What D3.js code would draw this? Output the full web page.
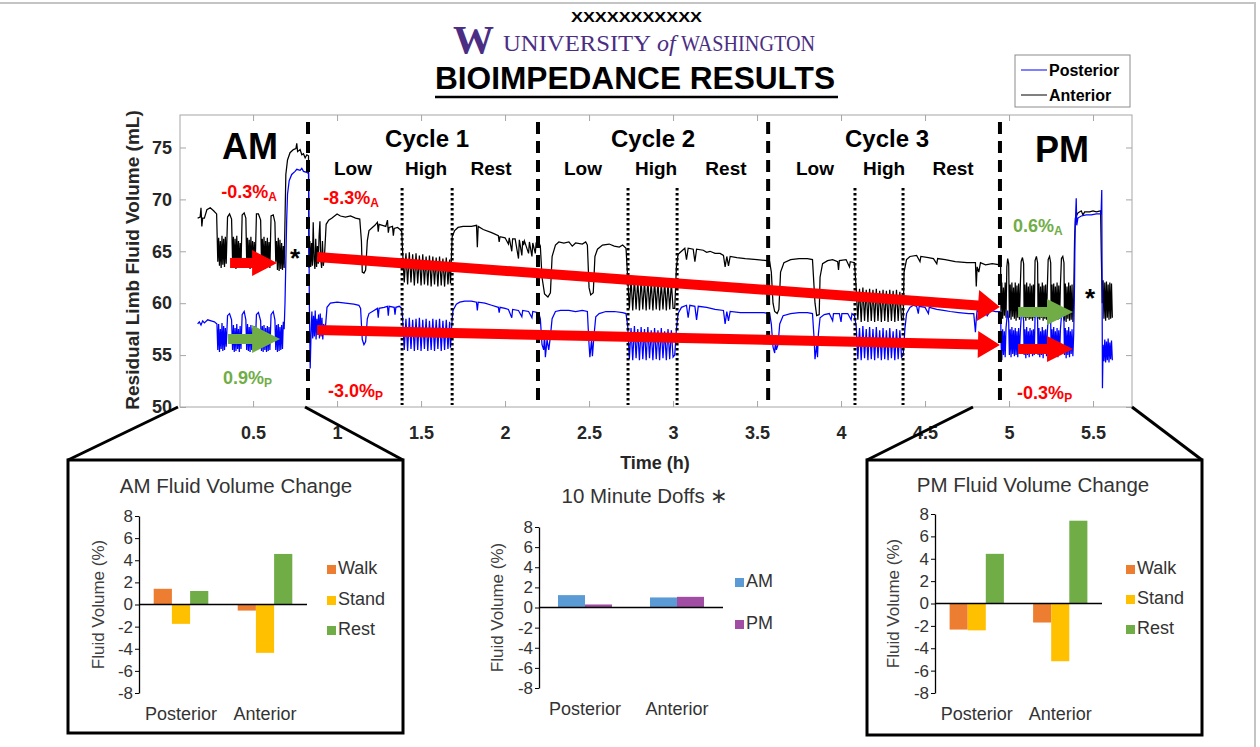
<!DOCTYPE html>
<html>
<head>
<meta charset="utf-8">
<script src="https://cdn.jsdelivr.net/npm/d3@7"></script>
<style>
  body { margin: 0; background: #fff; }
  svg text { font-family: "Liberation Sans", Arial, sans-serif; }
  .barAxis text { font-size: 17px; fill: #333; }
</style>
</head>
<body>
<svg id="fig" width="1260" height="747"></svg>
<script>
// ---------- main chart data (time in h, volume in mL) ----------
const yTicks = [50, 55, 60, 65, 70, 75];
const xTicks = [0.5, 1, 1.5, 2, 2.5, 3, 3.5, 4, 4.5, 5, 5.5];

const anteriorAM = [
  [0.17,68.2],[0.185,68.3],[0.19,69.2],[0.195,67.4],[0.20,68.2],[0.21,68.2],[0.225,69.0],[0.245,69.2],[0.265,68.9],[0.283,68.6],
  [0.29,64.0],[0.295,66.3],[0.30,63.6],[0.305,66.0],[0.31,63.4],[0.315,66.5],[0.32,63.7],[0.325,66.2],[0.33,63.5],[0.335,66.4],[0.34,63.8],
  [0.348,68.3],[0.36,68.6],[0.372,68.1],[0.378,64.0],
  [0.383,66.4],[0.388,63.5],[0.393,66.2],[0.398,63.3],[0.403,66.5],[0.408,63.6],[0.413,66.0],[0.418,63.4],[0.423,65.8],[0.428,63.5],
  [0.435,68.5],[0.447,68.7],[0.457,68.2],[0.462,64.0],
  [0.467,66.3],[0.472,63.4],[0.477,66.1],[0.482,63.3],[0.487,66.4],[0.492,63.5],[0.497,66.0],[0.502,63.6],[0.507,65.9],[0.512,63.4],
  [0.52,68.6],[0.532,68.6],[0.545,68.0],[0.55,64.0],
  [0.555,66.2],[0.56,63.4],[0.565,66.4],[0.57,63.3],[0.575,66.0],[0.58,63.5],[0.585,66.3],[0.59,63.6],[0.595,65.9],[0.60,63.4],
  [0.607,68.4],[0.62,68.5],[0.63,67.8],[0.635,64.0],
  [0.64,66.0],[0.645,63.2],[0.65,66.3],[0.655,63.1],[0.66,66.1],[0.665,63.3],[0.67,65.8],[0.675,63.2],[0.68,65.5],[0.685,63.4],
  [0.69,68.0],[0.695,72.4],[0.705,73.8],[0.72,74.5],[0.74,74.8],[0.755,74.9],[0.76,75.4],[0.765,74.6],[0.78,74.8],[0.79,74.3],
  [0.80,74.4],[0.81,74.0],[0.82,74.3],[0.83,74.2],[0.833,63.4]
];
const anteriorC1 = [
  [0.838,66.0],[0.843,63.5],[0.848,65.8],[0.853,63.6],[0.858,67.8],[0.863,64.2],[0.868,63.3],[0.873,66.2],[0.878,63.5],[0.883,65.5],
  [0.888,63.8],[0.893,66.5],[0.898,67.9],[0.903,64.2],[0.908,63.4],[0.913,66.0],[0.918,63.6],[0.925,64.5],
  [0.935,67.6],[0.95,68.0],[0.97,68.2],[1.0,68.6],[1.02,68.4],[1.05,68.3],[1.08,68.4],[1.11,68.2],[1.135,68.1],[1.145,66.0],
  [1.15,63.0],[1.16,62.9],[1.17,63.2],[1.18,66.0],[1.19,67.0],[1.21,67.3],[1.225,67.5],[1.24,67.8],[1.245,66.9],[1.25,67.6],
  [1.27,67.5],[1.29,67.4],[1.30,68.0],[1.305,66.8],[1.31,67.3],[1.33,67.4],[1.335,66.5],[1.34,67.2],[1.36,67.3],[1.375,67.1],[1.385,66.9],
  [1.39,65.0],[1.40,62.0],[1.41,64.8],[1.42,61.8],[1.43,64.9],[1.44,62.0],[1.45,64.7],[1.46,61.7],[1.47,64.8],[1.48,61.9],
  [1.49,64.6],[1.50,61.7],[1.51,64.7],[1.52,61.8],[1.53,64.5],[1.54,61.7],[1.55,64.6],[1.56,61.6],[1.57,64.5],[1.58,61.8],
  [1.59,64.4],[1.60,61.6],[1.61,64.5],[1.62,61.7],[1.63,64.3],[1.64,61.6],[1.65,64.4],[1.66,61.8],[1.67,64.2],[1.675,61.9],
  [1.685,66.4],[1.70,67.0],[1.72,67.3],[1.75,67.4],[1.80,67.4],[1.83,67.5],[1.835,65.4],[1.84,67.4],[1.87,67.1],[1.92,66.8],
  [1.96,66.5],[1.965,65.9],[1.97,66.4],[2.0,66.3],[2.02,65.7],[2.025,66.3],[2.04,65.0],[2.045,66.2],[2.06,66.2],[2.08,64.3],
  [2.085,66.1],[2.10,64.6],[2.105,66.0],[2.11,65.6],[2.115,66.0],[2.14,64.8],[2.145,65.9],[2.16,64.5],[2.165,65.8],[2.18,64.8],[2.185,65.8],[2.195,65.9]
];
const anteriorC2 = [
  [2.20,65.9],[2.21,65.5],[2.22,62.5],[2.235,60.9],[2.255,60.6],[2.27,61.0],[2.28,64.5],[2.30,65.6],[2.32,65.9],[2.35,65.8],
  [2.38,65.9],[2.40,65.5],[2.42,65.8],[2.46,65.7],[2.48,65.9],[2.49,65.6],[2.50,61.5],[2.51,60.8],[2.525,61.0],[2.535,64.5],
  [2.55,65.2],[2.58,65.6],[2.62,65.7],[2.65,65.5],[2.68,65.4],[2.70,65.6],[2.72,65.3],
  [2.73,62.4],[2.74,59.5],[2.75,62.3],[2.76,59.3],[2.77,62.4],[2.78,59.4],[2.79,62.2],[2.80,59.3],[2.81,62.3],[2.82,59.4],
  [2.83,62.2],[2.84,59.3],[2.85,62.3],[2.86,59.4],[2.87,62.1],[2.88,59.3],[2.89,62.2],[2.90,59.4],[2.91,62.1],[2.92,59.3],
  [2.93,62.0],[2.94,59.4],[2.95,62.1],[2.96,59.3],[2.97,62.0],[2.98,59.4],[2.99,62.0],[3.00,59.5],
  [3.01,59.5],[3.02,63.5],[3.03,64.7],[3.05,65.0],[3.07,65.3],[3.08,64.2],[3.09,65.3],[3.12,65.2],[3.13,64.0],[3.14,65.2],
  [3.18,65.1],[3.20,64.9],[3.22,65.0],[3.25,64.8],[3.28,64.8],[3.30,64.6],[3.31,63.5],[3.32,64.5],[3.33,63.6],[3.34,64.5],
  [3.38,64.4],[3.43,64.3],[3.50,64.2],[3.56,64.1],[3.57,64.0]
];
const anteriorC3 = [
  [3.575,64.0],[3.585,63.0],[3.595,60.0],[3.605,59.2],[3.62,59.0],[3.63,59.4],[3.64,63.0],[3.66,63.9],[3.70,64.2],[3.75,64.3],
  [3.80,64.3],[3.83,64.2],[3.845,60.0],[3.855,58.8],[3.87,58.9],[3.875,62.5],[3.89,63.8],[3.92,64.1],[3.95,64.2],[3.98,64.0],
  [3.985,63.2],[3.99,64.1],[4.03,64.2],[4.05,63.5],[4.055,64.0],[4.08,63.9],
  [4.09,61.5],[4.10,58.4],[4.11,61.4],[4.12,58.2],[4.13,61.5],[4.14,58.3],[4.15,61.3],[4.16,58.2],[4.17,61.4],[4.18,58.3],
  [4.19,61.3],[4.20,58.2],[4.21,61.4],[4.22,58.3],[4.23,61.2],[4.24,58.2],[4.25,61.3],[4.26,58.3],[4.27,61.2],[4.28,58.2],
  [4.29,61.3],[4.30,58.3],[4.31,61.2],[4.32,58.2],[4.33,61.3],[4.34,58.3],[4.35,61.1],[4.36,58.4],
  [4.37,58.5],[4.375,63.0],[4.39,64.2],[4.41,64.5],[4.45,64.6],[4.47,64.0],[4.475,64.5],[4.52,64.4],[4.55,64.3],[4.57,63.8],
  [4.575,64.3],[4.62,64.2],[4.68,64.0],[4.75,63.9],[4.80,63.9],[4.805,61.6],[4.81,63.5],[4.82,63.0],[4.83,63.9],[4.86,63.7],
  [4.90,63.8],[4.945,63.7]
];
const anteriorPM = [
  [4.95,63.5],[4.952,59.0],[4.957,62.0],[4.962,58.5],[4.967,61.5],[4.972,58.8],[4.977,62.0],[4.982,58.6],
  [4.987,63.5],[4.992,64.3],[4.998,63.8],[5.002,58.6],
  [5.007,61.8],[5.012,58.4],[5.017,62.0],[5.022,58.7],[5.027,61.5],[5.032,58.5],[5.037,62.0],[5.042,58.3],[5.047,61.7],[5.052,58.6],[5.057,61.9],[5.062,58.4],[5.067,61.6],
  [5.072,64.0],[5.08,64.4],[5.087,63.8],[5.09,58.6],
  [5.095,61.8],[5.10,58.3],[5.105,62.0],[5.11,58.6],[5.115,61.6],[5.12,58.4],[5.125,61.9],[5.13,58.5],[5.135,61.7],[5.14,58.3],[5.145,61.8],[5.15,58.6],
  [5.155,64.1],[5.163,64.5],[5.17,63.9],[5.173,58.5],
  [5.178,61.9],[5.183,58.4],[5.188,61.6],[5.193,58.6],[5.198,62.0],[5.203,58.3],[5.208,61.7],[5.213,58.5],[5.218,61.8],[5.223,58.4],[5.228,61.5],
  [5.233,64.2],[5.241,64.5],[5.248,63.9],[5.251,58.4],
  [5.256,61.8],[5.261,58.5],[5.266,61.9],[5.271,58.3],[5.276,61.6],[5.281,58.6],[5.286,62.0],[5.291,58.4],[5.296,61.7],[5.301,58.5],[5.306,61.8],
  [5.312,64.3],[5.32,64.5],[5.327,63.9],[5.33,58.3],
  [5.335,61.9],[5.34,58.2],[5.345,61.6],[5.35,58.5],[5.355,62.0],[5.36,58.3],[5.365,61.7],[5.37,58.4],[5.375,61.8],[5.38,58.2],[5.385,60.5],
  [5.39,66.0],[5.395,68.2],[5.41,68.7],[5.43,68.9],[5.44,68.5],[5.45,68.8],[5.48,68.8],[5.50,68.9],[5.52,68.8],[5.545,68.9],[5.55,64.0],[5.555,60.0],
  [5.56,62.2],[5.565,58.5],[5.57,62.0],[5.575,58.3],[5.58,62.1],[5.585,58.6],[5.59,61.8],[5.595,58.4],[5.60,62.0],[5.605,58.5],[5.61,61.9],[5.615,58.6]
];

const posteriorAM = [
  [0.17,58.0],[0.18,58.2],[0.19,57.9],[0.20,58.3],[0.21,58.1],[0.23,58.4],[0.25,58.3],[0.27,58.2],[0.285,58.0],
  [0.29,55.5],[0.295,58.0],[0.30,55.3],[0.305,57.5],[0.31,55.6],[0.315,58.1],[0.32,55.4],[0.325,57.8],[0.33,55.5],[0.335,57.6],[0.34,55.8],
  [0.348,58.8],[0.36,59.0],[0.372,58.4],[0.378,55.5],
  [0.383,57.9],[0.388,55.3],[0.393,57.6],[0.398,55.4],[0.403,58.0],[0.408,55.6],[0.413,57.5],[0.418,55.3],[0.423,57.8],[0.428,55.6],
  [0.435,58.9],[0.447,59.2],[0.457,58.4],[0.462,55.5],
  [0.467,58.0],[0.472,55.4],[0.477,57.7],[0.482,55.3],[0.487,57.9],[0.492,55.5],[0.497,57.6],[0.502,55.4],[0.507,57.8],[0.512,55.5],
  [0.52,58.9],[0.532,59.1],[0.545,58.3],[0.55,55.4],
  [0.555,57.8],[0.56,55.3],[0.565,57.9],[0.57,55.5],[0.575,57.6],[0.58,55.3],[0.585,57.8],[0.59,55.4],[0.595,57.7],[0.60,55.5],
  [0.607,58.9],[0.62,59.2],[0.63,58.4],[0.635,55.5],
  [0.64,57.9],[0.645,55.3],[0.65,58.0],[0.655,55.4],[0.66,57.7],[0.665,55.5],[0.67,57.9],[0.675,55.6],[0.68,58.2],[0.685,57.5],
  [0.69,60.0],[0.695,64.0],[0.70,68.0],[0.705,70.5],[0.715,71.8],[0.73,72.4],[0.75,72.7],[0.76,72.9],[0.78,72.8],[0.79,73.0],
  [0.80,72.7],[0.82,72.6],[0.83,72.5],[0.835,60.0],[0.84,53.7]
];
const posteriorC1 = [
  [0.845,57.0],[0.85,59.2],[0.855,56.6],[0.86,58.8],[0.865,56.8],[0.87,59.3],[0.875,56.5],[0.88,58.5],[0.885,57.0],[0.89,58.9],
  [0.895,56.6],[0.90,59.0],[0.905,56.8],[0.91,58.6],[0.915,56.5],[0.92,58.0],[0.93,57.5],
  [0.94,59.6],[0.96,60.0],[1.0,60.1],[1.05,60.0],[1.10,59.9],[1.13,59.8],[1.14,59.5],[1.15,56.5],[1.16,56.0],[1.17,56.3],
  [1.18,58.5],[1.19,59.0],[1.22,59.3],[1.24,59.5],[1.245,58.6],[1.25,59.5],[1.28,59.6],[1.30,59.7],[1.305,58.8],[1.31,59.7],
  [1.34,59.6],[1.345,58.9],[1.35,59.6],[1.37,59.7],[1.385,59.5],
  [1.39,58.6],[1.40,55.5],[1.41,58.5],[1.42,55.4],[1.43,58.6],[1.44,55.6],[1.45,58.4],[1.46,55.4],[1.47,58.5],[1.48,55.5],
  [1.49,58.6],[1.50,55.4],[1.51,58.4],[1.52,55.6],[1.53,58.5],[1.54,55.4],[1.55,58.3],[1.56,55.5],[1.57,58.5],[1.58,55.4],
  [1.59,58.4],[1.60,55.6],[1.61,58.5],[1.62,55.4],[1.63,58.3],[1.64,55.5],[1.65,58.4],[1.66,55.6],[1.67,58.2],[1.675,55.7],
  [1.685,58.5],[1.69,59.3],[1.71,59.9],[1.73,60.1],[1.76,60.2],[1.80,60.2],[1.83,60.1],[1.835,59.3],[1.84,60.1],[1.88,60.0],
  [1.92,59.8],[1.96,59.6],[1.965,59.1],[1.97,59.6],[2.0,59.5],[2.02,59.4],[2.04,58.6],[2.045,59.4],[2.08,59.3],[2.10,58.7],
  [2.105,59.3],[2.14,59.2],[2.16,58.6],[2.165,59.2],[2.195,59.1]
];
const posteriorC2 = [
  [2.20,59.1],[2.21,58.5],[2.22,56.0],[2.23,55.5],[2.235,57.0],[2.24,54.8],[2.25,56.5],[2.26,55.5],[2.27,56.8],[2.28,58.5],
  [2.30,59.2],[2.33,59.3],[2.38,59.3],[2.42,59.2],[2.46,59.3],[2.49,59.2],[2.50,56.0],[2.505,54.8],[2.515,56.5],[2.52,54.9],
  [2.53,57.0],[2.54,58.7],[2.56,59.0],[2.60,59.2],[2.65,59.2],[2.70,59.1],[2.72,59.0],
  [2.73,57.8],[2.74,54.6],[2.75,57.6],[2.76,54.5],[2.77,57.8],[2.78,54.7],[2.79,57.5],[2.80,54.5],[2.81,57.7],[2.82,54.6],
  [2.83,57.5],[2.84,54.5],[2.85,57.7],[2.86,54.7],[2.87,57.4],[2.88,54.5],[2.89,57.6],[2.90,54.6],[2.91,57.4],[2.92,54.5],
  [2.93,57.6],[2.94,54.7],[2.95,57.3],[2.96,54.5],[2.97,57.5],[2.98,54.6],[2.99,57.4],[3.00,54.8],
  [3.01,55.0],[3.02,57.5],[3.03,59.0],[3.05,59.6],[3.08,59.8],[3.09,58.6],[3.10,59.8],[3.13,59.7],[3.14,58.4],[3.15,59.7],
  [3.20,59.6],[3.25,59.4],[3.30,59.3],[3.31,58.0],[3.32,59.2],[3.33,58.3],[3.34,59.2],[3.40,59.1],[3.47,59.1],[3.54,59.1],[3.57,59.0]
];
const posteriorC3 = [
  [3.575,59.0],[3.585,58.0],[3.595,55.8],[3.605,55.2],[3.61,56.5],[3.615,55.5],[3.625,56.0],[3.635,58.0],[3.655,58.8],[3.70,59.0],
  [3.75,59.1],[3.80,59.1],[3.83,59.0],[3.84,56.5],[3.845,54.6],[3.855,56.0],[3.86,54.8],[3.865,57.0],[3.875,58.6],[3.90,58.9],
  [3.93,59.0],[3.95,58.3],[3.955,59.0],[3.99,59.0],[4.0,58.2],[4.005,59.0],[4.04,59.0],[4.06,58.4],[4.065,59.0],[4.08,58.8],
  [4.09,57.8],[4.10,54.6],[4.11,57.6],[4.12,54.5],[4.13,57.8],[4.14,54.7],[4.15,57.5],[4.16,54.5],[4.17,57.7],[4.18,54.6],
  [4.19,57.5],[4.20,54.5],[4.21,57.7],[4.22,54.7],[4.23,57.4],[4.24,54.5],[4.25,57.6],[4.26,54.6],[4.27,57.4],[4.28,54.5],
  [4.29,57.6],[4.30,54.7],[4.31,57.3],[4.32,54.5],[4.33,57.5],[4.34,54.6],[4.35,57.4],[4.36,54.8],
  [4.37,55.0],[4.38,57.5],[4.39,59.0],[4.41,59.6],[4.43,59.8],[4.45,59.7],[4.46,59.0],[4.465,59.7],[4.50,59.6],[4.52,59.0],
  [4.525,59.6],[4.57,59.4],[4.61,59.3],[4.65,59.2],[4.70,59.1],[4.76,59.0],[4.79,59.0],[4.80,57.2],[4.805,58.5],[4.81,59.3],
  [4.83,59.0],[4.85,59.4],[4.87,58.8],[4.89,59.3],[4.92,59.2],[4.945,59.2]
];
const posteriorPM = [
  [4.95,59.0],[4.953,56.0],[4.957,54.5],[4.962,57.5],[4.967,55.0],[4.972,57.3],[4.977,54.8],[4.982,57.6],
  [4.987,58.5],[4.992,59.3],[4.998,58.2],[5.002,55.0],
  [5.007,57.5],[5.012,54.8],[5.017,57.7],[5.022,55.1],[5.027,57.4],[5.032,54.9],[5.037,57.6],[5.042,55.0],[5.047,57.3],[5.052,54.8],[5.057,57.6],[5.062,55.2],[5.067,57.2],
  [5.072,58.6],[5.08,59.2],[5.087,58.3],[5.09,55.0],
  [5.095,57.5],[5.10,54.7],[5.105,57.7],[5.11,55.0],[5.115,57.3],[5.12,54.8],[5.125,57.6],[5.13,55.1],[5.135,57.4],[5.14,54.9],[5.145,57.5],[5.15,55.0],
  [5.155,58.7],[5.163,59.3],[5.17,58.4],[5.173,55.0],
  [5.178,57.6],[5.183,54.8],[5.188,57.3],[5.193,55.0],[5.198,57.7],[5.203,54.7],[5.208,57.4],[5.213,55.1],[5.218,57.5],[5.223,54.9],[5.228,57.2],
  [5.233,58.6],[5.241,59.2],[5.248,58.3],[5.251,55.0],
  [5.256,57.5],[5.261,54.8],[5.266,57.7],[5.271,54.9],[5.276,57.3],[5.281,55.1],[5.286,57.6],[5.291,54.8],[5.296,57.4],[5.301,55.0],[5.306,57.5],
  [5.312,58.8],[5.32,59.3],[5.327,58.2],[5.33,55.0],
  [5.335,57.6],[5.34,54.7],[5.345,57.4],[5.35,55.0],[5.355,57.7],[5.36,54.8],[5.365,57.3],[5.37,55.1],[5.375,57.5],[5.38,54.9],[5.385,57.0],
  [5.39,62.0],[5.393,66.8],[5.40,70.1],[5.403,67.5],[5.41,68.2],[5.43,68.4],[5.46,68.5],[5.49,68.5],[5.52,68.6],[5.548,68.6],
  [5.552,70.9],[5.556,51.8],[5.56,56.0],
  [5.565,54.4],[5.57,56.5],[5.575,54.3],[5.58,56.3],[5.585,54.5],[5.59,56.6],[5.595,54.3],[5.60,56.2],[5.605,54.6],[5.61,56.4],[5.615,54.5]
];

const anterior = [...anteriorAM, ...anteriorC1, ...anteriorC2, ...anteriorC3, ...anteriorPM];
const posterior = [...posteriorAM, ...posteriorC1, ...posteriorC2, ...posteriorC3, ...posteriorPM];

// phase boundaries (h)
const phaseBounds = [0.827, 2.196, 3.566, 4.946];
const stageBounds = [1.387, 1.685, 2.732, 3.024, 4.083, 4.369];

// trend arrows: [t0, v0, t1, v1]
const arrowAnteriorAM = [0.363, 63.87, 0.643, 63.87];
const arrowPosteriorAM = [0.351, 56.55, 0.661, 56.55];
const arrowAnteriorDay = [0.881, 64.45, 4.946, 59.63];
const arrowPosteriorDay = [0.881, 57.42, 4.946, 55.97];
const arrowAnteriorPM = [5.054, 59.15, 5.381, 59.15];
const arrowPosteriorPM = [5.054, 55.59, 5.381, 55.59];

// ---------- bar chart data ----------
const barCats = ['Posterior', 'Anterior'];
const barTicks = [8, 6, 4, 2, 0, -2, -4, -6, -8];
const amWalk = [1.42, -0.55];
const amStand = [-1.75, -4.37];
const amRest = [1.22, 4.57];
const pmWalk = [-2.33, -1.7];
const pmStand = [-2.4, -5.16];
const pmRest = [4.44, 7.4];
const doffAM = [1.23, 1.0];
const doffPM = [0.3, 1.06];

const RED = '#ff0000', GREEN = '#70ad47';
const svg = d3.select('#fig');

// slide border
svg.append('rect').attr('x', -2).attr('y', 3).attr('width', 1257).attr('height', 760)
  .attr('fill', 'none').attr('stroke', '#c4c4c4').attr('stroke-width', 2);

// ---------- header ----------
const head = svg.append('g');
head.append('text').attr('x', 571).attr('y', 22).attr('font-size', 15).attr('font-weight', 'bold')
  .attr('textLength', 131).attr('lengthAdjust', 'spacingAndGlyphs').text('XXXXXXXXXXX');
head.append('text').attr('x', 453).attr('y', 53).attr('font-size', 40).attr('font-weight', 'bold')
  .style('font-family', '"Liberation Serif", "DejaVu Serif", serif')
  .attr('textLength', 41).attr('lengthAdjust', 'spacingAndGlyphs')
  .attr('fill', '#4b2e83').text('W');
const serif = '"Liberation Serif", "DejaVu Serif", serif';
head.append('text').attr('x', 503).attr('y', 51).attr('font-size', 24).style('font-family', serif)
  .attr('textLength', 148).attr('lengthAdjust', 'spacingAndGlyphs').attr('fill', '#4b2e83').text('UNIVERSITY');
head.append('text').attr('x', 657).attr('y', 51).attr('font-size', 24).attr('font-style', 'italic').style('font-family', serif)
  .attr('fill', '#4b2e83').text('of');
head.append('text').attr('x', 681).attr('y', 51).attr('font-size', 24).style('font-family', serif)
  .attr('textLength', 134).attr('lengthAdjust', 'spacingAndGlyphs').attr('fill', '#4b2e83').text('WASHINGTON');
head.append('text').attr('x', 435).attr('y', 89).attr('font-size', 31).attr('font-weight', 'bold')
  .attr('textLength', 400).attr('lengthAdjust', 'spacingAndGlyphs').text('BIOIMPEDANCE RESULTS');
head.append('line').attr('x1', 435).attr('x2', 838).attr('y1', 97).attr('y2', 97)
  .attr('stroke', '#000').attr('stroke-width', 2.5);

// ---------- main chart ----------
const x = d3.scaleLinear().domain([0.065, 5.732]).range([180, 1132]);
const y = d3.scaleLinear().domain([50, 78.13]).range([407, 115]);
const main = svg.append('g');

main.append('clipPath').attr('id', 'plotClip').append('rect')
  .attr('x', x.range()[0]).attr('y', y.range()[1])
  .attr('width', x.range()[1] - x.range()[0]).attr('height', y.range()[0] - y.range()[1]);

const axisColor = '#a6a6a6';
function styleAxis(g) {
  g.select('.domain').remove();
  g.selectAll('.tick line').attr('stroke', axisColor);
  g.selectAll('.tick text').attr('font-size', 18).attr('font-weight', 'bold').attr('fill', '#262626');
}
main.append('g').attr('transform', `translate(${x.range()[0]},0)`)
  .call(d3.axisLeft(y).tickValues(yTicks).tickSizeInner(-6).tickSizeOuter(0).tickPadding(8)).call(styleAxis);
main.append('g').attr('transform', `translate(${x.range()[1]},0)`)
  .call(d3.axisRight(y).tickValues(yTicks).tickSizeInner(-6).tickSizeOuter(0).tickFormat('')).call(styleAxis);
main.append('g').attr('transform', `translate(0,${y.range()[0]})`)
  .call(d3.axisBottom(x).tickValues(xTicks).tickSizeInner(-6).tickSizeOuter(0).tickPadding(19).tickFormat(d => String(d)))
  .call(styleAxis);
main.append('g').attr('transform', `translate(0,${y.range()[1]})`)
  .call(d3.axisTop(x).tickValues(xTicks).tickSizeInner(-6).tickSizeOuter(0).tickFormat('')).call(styleAxis);
main.append('rect').attr('x', x.range()[0]).attr('y', y.range()[1])
  .attr('width', x.range()[1] - x.range()[0]).attr('height', y.range()[0] - y.range()[1])
  .attr('fill', 'none').attr('stroke', axisColor).attr('stroke-width', 1);

main.append('text').attr('x', 655).attr('y', 469).attr('text-anchor', 'middle')
  .attr('font-size', 18).attr('font-weight', 'bold').attr('fill', '#262626').text('Time (h)');
main.append('text').attr('transform', 'translate(139,260) rotate(-90)').attr('text-anchor', 'middle')
  .attr('font-size', 19).attr('font-weight', 'bold').attr('fill', '#262626').text('Residual Limb Fluid Volume (mL)');

// data lines
const line = d3.line().x(d => x(d[0])).y(d => y(d[1]));
const lines = main.append('g').attr('clip-path', 'url(#plotClip)');
lines.append('path').datum(anterior).attr('d', line)
  .attr('fill', 'none').attr('stroke', '#000').attr('stroke-width', 1.25);
lines.append('path').datum(posterior).attr('d', line)
  .attr('fill', 'none').attr('stroke', '#0000ff').attr('stroke-width', 1.25);

// phase separators
main.selectAll('.phase').data(phaseBounds).join('line')
  .attr('x1', d => x(d)).attr('x2', d => x(d)).attr('y1', y(77.45)).attr('y2', y(50.5))
  .attr('stroke', '#000').attr('stroke-width', 4).attr('stroke-dasharray', '12,7');
main.selectAll('.stage').data(stageBounds).join('line')
  .attr('x1', d => x(d)).attr('x2', d => x(d)).attr('y1', y(71.1)).attr('y2', y(50.2))
  .attr('stroke', '#000').attr('stroke-width', 3).attr('stroke-dasharray', '2.5,2.5');

// arrows
function arrowPath(a, shaft, headLen, headW) {
  const x0 = x(a[0]), y0 = y(a[1]), x1 = x(a[2]), y1 = y(a[3]);
  const len = Math.hypot(x1 - x0, y1 - y0);
  const ux = (x1 - x0) / len, uy = (y1 - y0) / len, nx = -uy, ny = ux;
  const bx = x1 - ux * headLen, by = y1 - uy * headLen;
  const pts = [
    [x0 + nx * shaft / 2, y0 + ny * shaft / 2], [bx + nx * shaft / 2, by + ny * shaft / 2],
    [bx + nx * headW / 2, by + ny * headW / 2], [x1, y1],
    [bx - nx * headW / 2, by - ny * headW / 2], [bx - nx * shaft / 2, by - ny * shaft / 2],
    [x0 - nx * shaft / 2, y0 - ny * shaft / 2]
  ];
  return 'M' + pts.map(p => p.join(',')).join('L') + 'Z';
}
const arrows = main.append('g');
[[arrowAnteriorDay, RED, 10, 22, 31], [arrowPosteriorDay, RED, 10, 22, 27],
 [arrowAnteriorAM, RED, 10, 25, 26], [arrowPosteriorAM, GREEN, 10, 28, 28],
 [arrowAnteriorPM, GREEN, 10, 26, 26], [arrowPosteriorPM, RED, 10, 26, 26]]
  .forEach(([a, c, s, hl, hw]) => arrows.append('path').attr('d', arrowPath(a, s, hl, hw)).attr('fill', c));

// labels
const phaseLabels = [
  {text: 'Cycle 1', t: 1.536}, {text: 'Cycle 2', t: 2.881}, {text: 'Cycle 3', t: 4.274}
];
main.selectAll('.cyc').data(phaseLabels).join('text')
  .attr('x', d => x(d.t)).attr('y', y(75.05)).attr('text-anchor', 'middle')
  .attr('font-size', 24).attr('font-weight', 'bold').text(d => d.text);
const stageLabels = [
  ['Low', 1.095], ['High', 1.53], ['Rest', 1.917], ['Low', 2.464], ['High', 2.899], ['Rest', 3.315],
  ['Low', 3.845], ['High', 4.256], ['Rest', 4.667]
];
main.selectAll('.stg').data(stageLabels).join('text')
  .attr('x', d => x(d[1])).attr('y', y(72.35)).attr('text-anchor', 'middle')
  .attr('font-size', 19).attr('font-weight', 'bold').text(d => d[0]);
[['AM', 0.482, 73.85], ['PM', 5.315, 73.6]].forEach(([t, h, v]) => {
  main.append('text').attr('x', x(h)).attr('y', y(v)).attr('text-anchor', 'middle')
    .attr('font-size', 36).attr('font-weight', 'bold').text(t);
});
const pctNotes = [
  {text: '-0.3%', sub: 'A', t: 0.31, v: 70.13, color: RED},
  {text: '-8.3%', sub: 'A', t: 0.917, v: 69.56, color: RED},
  {text: '0.9%', sub: 'P', t: 0.321, v: 52.2, color: GREEN},
  {text: '-3.0%', sub: 'P', t: 0.946, v: 50.96, color: RED},
  {text: '0.6%', sub: 'A', t: 5.024, v: 66.86, color: GREEN},
  {text: '-0.3%', sub: 'P', t: 5.048, v: 50.77, color: RED}
];
pctNotes.forEach(n => {
  const t = main.append('text').attr('x', x(n.t)).attr('y', y(n.v))
    .attr('font-size', 18).attr('font-weight', 'bold').attr('fill', n.color);
  t.append('tspan').text(n.text);
  t.append('tspan').attr('font-size', 12).attr('dy', 3).text(n.sub);
});
[[0.75, 64.84], [5.482, 60.98]].forEach(([h, v]) => {
  main.append('text').attr('x', x(h)).attr('y', y(v) + 14).attr('text-anchor', 'middle')
    .attr('font-size', 26).attr('font-weight', 'bold').text('*');
});

// legend
const lg = svg.append('g');
lg.append('rect').attr('x', 1015).attr('y', 55).attr('width', 115).attr('height', 52)
  .attr('fill', '#fff').attr('stroke', '#8c8c8c').attr('stroke-width', 1);
[['Posterior', '#0000ff', 70], ['Anterior', '#000', 95]].forEach(([name, c, cy]) => {
  lg.append('line').attr('x1', 1021).attr('x2', 1047).attr('y1', cy).attr('y2', cy).attr('stroke', c).attr('stroke-width', 1);
  lg.append('text').attr('x', 1049).attr('y', cy + 6).attr('font-size', 16).attr('font-weight', 'bold').text(name);
});

// ---------- zoom boxes ----------
const zoomLines = [
  [178, 407, 68, 460], [305, 407, 403, 460], [973, 407, 867, 460], [1132, 407, 1202, 460]
];
zoomLines.forEach(([a, b, c, d]) => svg.append('line').attr('x1', a).attr('y1', b).attr('x2', c).attr('y2', d)
  .attr('stroke', '#000').attr('stroke-width', 3));
svg.append('rect').attr('x', 68).attr('y', 460).attr('width', 335).attr('height', 273)
  .attr('fill', 'none').attr('stroke', '#000').attr('stroke-width', 3);
svg.append('rect').attr('x', 867).attr('y', 460).attr('width', 335).attr('height', 275)
  .attr('fill', 'none').attr('stroke', '#000').attr('stroke-width', 3);

// ---------- bar charts ----------
function barChart(c) {
  const g = svg.append('g');
  const yb = d3.scaleLinear().domain([-8, 8]).range([c.bottom, c.top]);
  const xb = d3.scaleBand().domain(barCats).range([c.left, c.right]).paddingInner(c.pad).paddingOuter(c.pad / 2);
  const xs = d3.scaleBand().domain(c.series.map(s => s.name)).range([0, xb.bandwidth()]);
  c.series.forEach(s => {
    g.selectAll(null).data(s.values).join('rect')
      .attr('x', (d, i) => xb(barCats[i]) + xs(s.name))
      .attr('y', d => yb(Math.max(0, d)))
      .attr('width', xs.bandwidth())
      .attr('height', d => Math.abs(yb(d) - yb(0)))
      .attr('fill', s.color);
  });
  g.append('line').attr('x1', c.left).attr('x2', c.right).attr('y1', yb(0)).attr('y2', yb(0))
    .attr('stroke', '#000').attr('stroke-width', 1.3);
  const ax = g.append('g').attr('class', 'barAxis').attr('transform', `translate(${c.left},0)`)
    .call(d3.axisLeft(yb).tickValues(barTicks).tickSizeInner(4).tickSizeOuter(0).tickPadding(2).tickFormat(d => String(d)));
  ax.select('.domain').attr('stroke', '#000').attr('stroke-width', 1.3);
  ax.selectAll('.tick line').attr('stroke', '#000');
  ax.selectAll('.tick text').style('font-size', '17px').style('fill', '#333');
  g.selectAll(null).data(barCats).join('text')
    .attr('x', d => xb(d) + xb.bandwidth() / 2).attr('y', c.catY).attr('text-anchor', 'middle')
    .attr('font-size', 18).attr('fill', '#333').text(d => d);
  g.append('text').attr('transform', `translate(${c.ylabX},${(c.top + c.bottom) / 2}) rotate(-90)`)
    .attr('text-anchor', 'middle').attr('font-size', 17).attr('fill', '#404040').text('Fluid Volume (%)');
  g.append('text').attr('x', c.titleX).attr('y', c.titleY).attr('text-anchor', 'middle')
    .attr('font-size', 20.5).attr('fill', '#333').text(c.title);
  c.series.forEach((s, i) => {
    g.append('rect').attr('x', c.legX).attr('y', c.legY[i] - 9).attr('width', 9).attr('height', 9).attr('fill', s.color);
    g.append('text').attr('x', c.legX + 11).attr('y', c.legY[i]).attr('font-size', 18).attr('fill', '#333').text(s.name);
  });
  return g;
}
barChart({
  left: 139, right: 307, top: 516, bottom: 693, pad: 0.35, catY: 720, ylabX: 104,
  title: 'AM Fluid Volume Change', titleX: 236, titleY: 493, legX: 327, legY: [574, 605, 635],
  series: [{name: 'Walk', values: amWalk, color: '#ed7d31'}, {name: 'Stand', values: amStand, color: '#ffc000'},
           {name: 'Rest', values: amRest, color: '#70ad47'}]
});
barChart({
  left: 935, right: 1102, top: 514, bottom: 693, pad: 0.35, catY: 720, ylabX: 899,
  title: 'PM Fluid Volume Change', titleX: 1033, titleY: 492, legX: 1126, legY: [574, 604, 634],
  series: [{name: 'Walk', values: pmWalk, color: '#ed7d31'}, {name: 'Stand', values: pmStand, color: '#ffc000'},
           {name: 'Rest', values: pmRest, color: '#70ad47'}]
});
barChart({
  left: 539, right: 723, top: 527, bottom: 688, pad: 0.413, catY: 715, ylabX: 503,
  title: '10 Minute Doffs \u2217', titleX: 645, titleY: 503, legX: 735, legY: [587, 629],
  series: [{name: 'AM', values: doffAM, color: '#5b9bd5'}, {name: 'PM', values: doffPM, color: '#a04da3'}]
});
</script>
</body>
</html>
